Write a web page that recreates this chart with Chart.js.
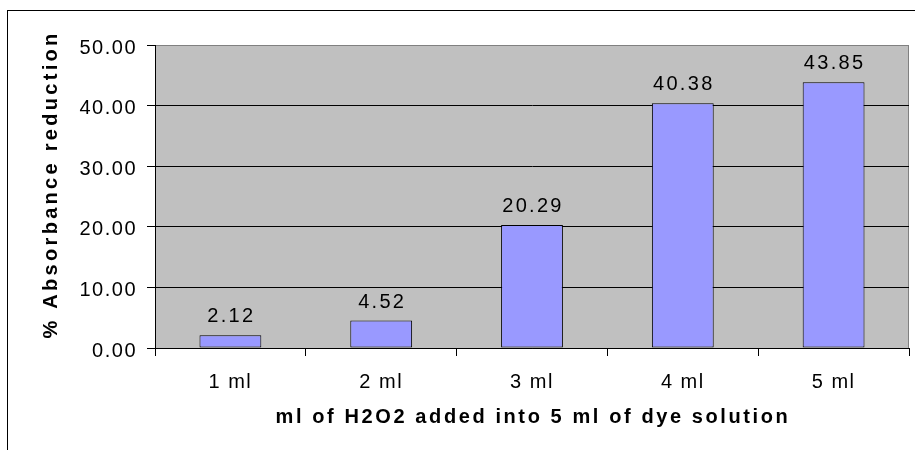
<!DOCTYPE html>
<html>
<head>
<meta charset="utf-8">
<title>Absorbance reduction</title>
<script src="https://cdn.jsdelivr.net/npm/chart.js@4/dist/chart.umd.min.js"></script>
<style>
  html, body { margin: 0; padding: 0; background: #fff; }
  #wrap { width: 915px; height: 450px; }
</style>
</head>
<body>
<div id="wrap"><canvas id="barChart" width="915" height="450"></canvas></div>
<script>
// data
const categories = ['1 ml', '2 ml', '3 ml', '4 ml', '5 ml'];
const reduction = [2.12, 4.52, 20.29, 40.38, 43.85];
const yTicks = [0, 10, 20, 30, 40, 50];

const xTitle = 'ml of H2O2 added into 5 ml of dye solution';
const yTitle = '% Absorbance reduction';
const FONT = "'Liberation Sans', Arial, sans-serif";

// grey plot area, outer frame and spaced-out text
const decorations = {
    id: 'decorations',
    beforeDraw(chart) {
        const ctx = chart.ctx;
        const a = chart.chartArea;
        ctx.save();
        ctx.fillStyle = '#c0c0c0';
        ctx.fillRect(a.left, a.top, a.right - a.left, a.bottom - a.top);
        ctx.strokeStyle = '#808080';
        ctx.lineWidth = 1;
        ctx.strokeRect(a.left + 0.5, a.top + 0.5, a.right - a.left - 1, a.bottom - a.top);
        // chart frame, runs off the right and bottom edges
        ctx.strokeStyle = '#000';
        ctx.strokeRect(7.5, 10.5, 1000, 1000);
        ctx.restore();
        ctx.letterSpacing = '1.5px';
    },
    afterDatasetsDraw(chart) {
        const ctx = chart.ctx;
        const a = chart.chartArea;
        const meta = chart.getDatasetMeta(0);
        ctx.save();
        ctx.fillStyle = '#000';
        ctx.font = '20px ' + FONT;
        ctx.letterSpacing = '2.3px';
        ctx.textAlign = 'center';
        ctx.textBaseline = 'alphabetic';
        meta.data.forEach((bar, i) => {
            ctx.fillText(reduction[i].toFixed(2), bar.x + 1, bar.y - 13);
        });

        // axis titles
        ctx.font = 'bold 20px ' + FONT;
        ctx.letterSpacing = '2.6px';
        ctx.fillText(xTitle, (a.left + a.right) / 2 + 1, 423);

        ctx.translate(57, (a.top + a.bottom) / 2 - 12);
        ctx.rotate(-Math.PI / 2);
        ctx.letterSpacing = '3.3px';
        ctx.fillText(yTitle, 0, 0);
        ctx.restore();
    }
};

const ctx = document.getElementById('barChart').getContext('2d');
new Chart(ctx, {
    type: 'bar',
    data: {
        labels: categories,
        datasets: [{
            data: reduction,
            backgroundColor: '#9999ff',
            borderColor: '#000',
            borderWidth: 1,
            borderSkipped: false,
            categoryPercentage: 1,
            barPercentage: 0.41
        }]
    },
    options: {
        responsive: false,
        animation: false,
        layout: { padding: { left: 0, top: 45, right: 6, bottom: 0 } },
        plugins: {
            legend: { display: false },
            tooltip: { enabled: false }
        },
        scales: {
            x: {
                grid: {
                    offset: true,
                    drawOnChartArea: false,
                    color: '#000',
                    tickLength: 8
                },
                border: { color: '#000', width: 1 },
                ticks: {
                    color: '#000',
                    font: { family: FONT, size: 20 },
                    padding: 14
                },
                afterFit(scale) { scale.height = 102; }
            },
            y: {
                min: yTicks[0],
                max: yTicks[yTicks.length - 1],
                grid: {
                    color: (c) => c.tick && c.tick.value === yTicks[yTicks.length - 1] ? '#808080' : '#000',
                    tickColor: '#000',
                    tickLength: 8
                },
                border: { color: '#000', width: 1 },
                ticks: {
                    stepSize: yTicks[1] - yTicks[0],
                    color: '#000',
                    font: { family: FONT, size: 20 },
                    padding: 10,
                    labelOffset: 3,
                    callback: (v) => v.toFixed(2)
                },
                afterFit(scale) { scale.width = 155; }
            }
        }
    },
    plugins: [decorations]
});
</script>
</body>
</html>
